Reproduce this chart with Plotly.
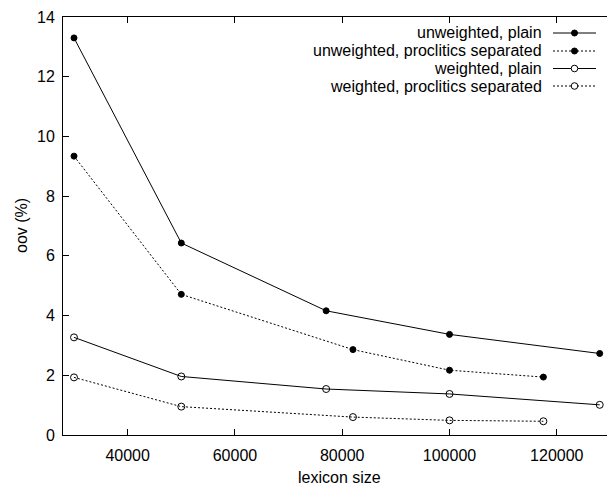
import plotly.graph_objects as go

# Data
lex_unw_plain = [30000, 50000, 77000, 100000, 128000]
oov_unw_plain = [13.30, 6.43, 4.16, 3.37, 2.73]
lex_unw_proc = [30000, 50000, 82000, 100000, 117500]
oov_unw_proc = [9.34, 4.71, 2.86, 2.17, 1.94]
lex_w_plain = [30000, 50000, 77000, 100000, 128000]
oov_w_plain = [3.27, 1.96, 1.54, 1.375, 1.01]
lex_w_proc = [30000, 50000, 82000, 100000, 117500]
oov_w_proc = [1.93, 0.95, 0.60, 0.49, 0.46]

series_names = ["unweighted, plain", "unweighted, proclitics separated",
                "weighted, plain", "weighted, proclitics separated"]
x_ticks = [40000, 60000, 80000, 100000, 120000]
y_ticks = [0, 2, 4, 6, 8, 10, 12, 14]
x_title = "lexicon size"
y_title = "oov (%)"

FONT = "Liberation Sans, Arial, sans-serif"
FS = 16
OFF = 8  # default page body margin in the written html
W, H = 615 - OFF, 486 - OFF
# plot area in page pixels: left 63, top 17, bottom 435, right ~615
ML, MR, MT, MB = 63 - OFF, 0, 17 - OFF, 486 - 435

styles = [
    dict(dash="solid", symbol="circle", filled=True),
    dict(dash="2px,2px", symbol="circle", filled=True),
    dict(dash="solid", symbol="circle-open", filled=False),
    dict(dash="2px,2px", symbol="circle-open", filled=False),
]
data = [(lex_unw_plain, oov_unw_plain), (lex_unw_proc, oov_unw_proc),
        (lex_w_plain, oov_w_plain), (lex_w_proc, oov_w_proc)]

fig = go.Figure()
for (xs, ys), st, name in zip(data, styles, series_names):
    fig.add_trace(go.Scatter(
        x=xs, y=ys, mode="lines+markers", name=name, showlegend=False,
        line=dict(color="black", width=1, dash=st["dash"]),
        marker=dict(symbol=st["symbol"], size=6 if st["filled"] else 7,
                    color="black", line=dict(color="black", width=1)),
    ))

pw = W - ML - MR
ph = H - MT - MB
def px_to_paper_x(px):  # px in page coordinates
    return (px - OFF - ML) / pw
def px_to_paper_y(py):
    return (H - MB - (py - OFF)) / ph

# Custom gnuplot-style legend (text right-aligned, sample on the right)
row_y = [33, 51, 68.5, 86]
for name, st, ry in zip(series_names, styles, row_y):
    fig.add_annotation(x=px_to_paper_x(543), y=px_to_paper_y(ry), xref="paper", yref="paper",
                       text=name, showarrow=False, xanchor="right", yanchor="middle",
                       borderpad=0, font=dict(family=FONT, size=FS, color="black"))
    fig.add_shape(type="line", xref="paper", yref="paper",
                  x0=px_to_paper_x(553), x1=px_to_paper_x(596),
                  y0=px_to_paper_y(ry), y1=px_to_paper_y(ry),
                  line=dict(color="black", width=1,
                            dash="solid" if st["dash"] == "solid" else "2px,2px"))
    r = 3 if st["filled"] else 3.3
    fig.add_shape(type="circle", xref="paper", yref="paper",
                  xsizemode="pixel", ysizemode="pixel",
                  xanchor=px_to_paper_x(574.5), yanchor=px_to_paper_y(ry),
                  x0=-r, x1=r, y0=-r, y1=r,
                  fillcolor="black" if st["filled"] else "white",
                  line=dict(color="black", width=1))

# Axis titles
fig.add_annotation(x=px_to_paper_x(339), y=px_to_paper_y(477), xref="paper", yref="paper",
                   text=x_title, showarrow=False, xanchor="center", yanchor="middle",
                   font=dict(family=FONT, size=FS, color="black"))
fig.add_annotation(x=px_to_paper_x(21), y=px_to_paper_y(226), xref="paper", yref="paper",
                   text=y_title, showarrow=False, xanchor="center", yanchor="middle",
                   textangle=-90, font=dict(family=FONT, size=FS, color="black"))

axis_common = dict(
    showgrid=False, zeroline=False, showline=True, linecolor="black", linewidth=1,
    mirror="allticks", ticks="inside", ticklen=6, tickcolor="black", tickwidth=1,
    tickfont=dict(family=FONT, size=FS, color="black"), automargin=False,
)
fig.update_xaxes(range=[27950, 130850], tickvals=x_ticks,
                 ticktext=[str(v) for v in x_ticks],
                 ticklabelstandoff=6, **axis_common)
fig.update_yaxes(range=[0, 14], tickvals=y_ticks, ticktext=[str(v) for v in y_ticks],
                 ticklabelstandoff=4, **axis_common)

fig.update_layout(width=W, height=H, margin=dict(l=ML, r=MR, t=MT, b=MB),
                  paper_bgcolor="white", plot_bgcolor="white",
                  font=dict(family=FONT, size=FS, color="black"))
fig.write_html("out.html")
